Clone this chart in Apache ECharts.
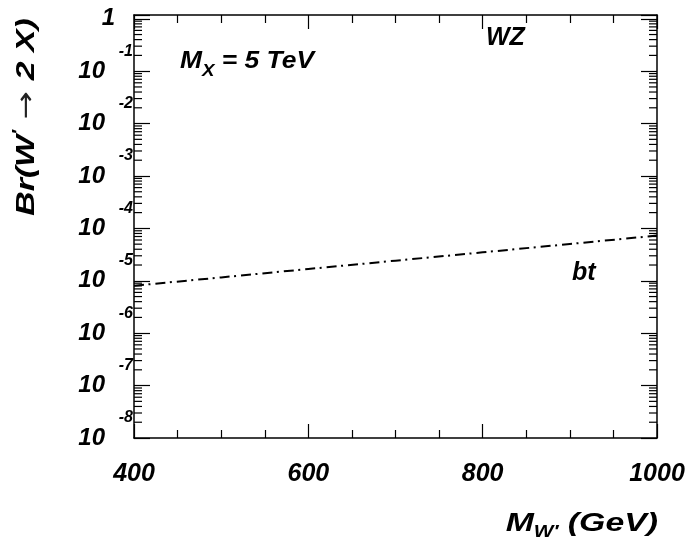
<!DOCTYPE html>
<html>
<head>
<meta charset="utf-8">
<script src="https://cdn.jsdelivr.net/npm/echarts@6/dist/echarts.min.js"></script>
<style>
  html, body { margin: 0; padding: 0; background: #fff; }
  #brChart { width: 691px; height: 546px; }
</style>
</head>
<body>
<div id="brChart"></div>
<script>
// W' mass (GeV) and branching ratio to bt
const massPoints = [400, 500, 600, 700, 800, 900, 1000];
const brBt = [8.05e-6, 1.16e-5, 1.68e-5, 2.42e-5, 3.49e-5, 5.04e-5, 7.28e-5];

const xMin = 400, xMax = 1000;
const yMin = 1e-8, yMax = 1.18;

// log minor ticks 2..9 in every decade
const minorTicks = [];
for (let n = -8; n < 0; n++) {
    for (let k = 2; k <= 9; k++) {
        minorTicks.push(k * Math.pow(10, n));
    }
}

const FONT = 'Liberation Sans';
const black = '#000';
const textBase = {fontFamily: FONT, fontWeight: 'bold', fontStyle: 'italic', color: black};

let chart = echarts.init(document.getElementById('brChart'), null, {renderer: 'canvas'});

const xAxisBase = {
    type: 'value',
    min: xMin,
    max: xMax,
    interval: 200,
    axisLine: {show: true, onZero: false, lineStyle: {color: black, width: 1.5}},
    axisTick: {show: true, inside: true, length: 14, lineStyle: {color: black, width: 1.2}},
    minorTick: {show: true, splitNumber: 4, length: 8, lineStyle: {color: black, width: 1.2}},
    splitLine: {show: false}
};

const yAxisBase = {
    type: 'log',
    logBase: 10,
    min: yMin,
    max: yMax,
    splitNumber: 8,
    axisLine: {show: true, onZero: false, lineStyle: {color: black, width: 1.5}},
    axisTick: {show: true, inside: true, length: 16, lineStyle: {color: black, width: 1.2}},
    splitLine: {show: false}
};

// bold italic rich style for graphic texts
function bi(size, extra) {
    return Object.assign({fontFamily: FONT, fontWeight: 'bold', fontStyle: 'italic', fontSize: size, fill: black}, extra || {});
}

let option = {
    backgroundColor: '#fff',
    animation: false,
    grid: {left: 134, right: 34, top: 15, bottom: 108, outerBoundsMode: 'none'},
    xAxis: [
        Object.assign({}, xAxisBase, {
            position: 'bottom',
            axisLabel: Object.assign({}, textBase, {
                fontSize: 25,
                margin: 24,
                formatter: function (v) { return String(v); }
            })
        }),
        Object.assign({}, xAxisBase, {
            position: 'top',
            axisLabel: {show: false}
        })
    ],
    yAxis: [
        Object.assign({}, yAxisBase, {
            position: 'left',
            axisLabel: Object.assign({}, textBase, {
                margin: 1,
                hideOverlap: false,
                showMinLabel: true,
                showMaxLabel: true,
                formatter: function (v) {
                    const e = Math.log10(v);
                    if (Math.abs(e - Math.round(e)) > 1e-6) return '';
                    const n = Math.round(e);
                    if (n === 0) return '{o|1}';
                    return '{e|' + n + '}\n{b|10}\n{s| }';
                },
                rich: {
                    e: Object.assign({}, textBase, {fontSize: 16, lineHeight: 11}),
                    b: Object.assign({}, textBase, {fontSize: 24, lineHeight: 29, padding: [0, 28, 0, 0]}),
                    s: Object.assign({}, textBase, {fontSize: 8, lineHeight: 11}),
                    o: Object.assign({}, textBase, {fontSize: 24, lineHeight: 26, padding: [0, 18, 0, 0]})
                }
            })
        }),
        Object.assign({}, yAxisBase, {
            position: 'right',
            axisLabel: {show: false}
        })
    ],
    graphic: [
        {
            type: 'text',
            x: 27,
            y: 117,
            rotation: Math.PI / 2,
            scaleX: 1.3,
            style: {
                text: '{t|Br(W}{p|′}{a| → }{t|2 X)}',
                align: 'center',
                verticalAlign: 'middle',
                fill: black,
                rich: {
                    t: bi(26),
                    p: bi(16, {padding: [0, 0, 14, 0]}),
                    a: {fontFamily: 'DejaVu Sans', fontWeight: 'normal', fontSize: 26, fill: '#222'}
                }
            }
        },
        {
            type: 'text',
            x: 658,
            y: 524,
            scaleX: 1.3,
            style: {
                text: '{m|M}{s|W′}{m| (GeV)}',
                align: 'right',
                verticalAlign: 'middle',
                fill: black,
                rich: {
                    m: bi(26),
                    s: bi(16, {padding: [18, 0, 0, 0]})
                }
            }
        },
        {
            type: 'text',
            x: 180,
            y: 61,
            scaleX: 1.1,
            style: {
                text: '{m|M}{s|X}{m| = 5 TeV}',
                align: 'left',
                verticalAlign: 'middle',
                fill: black,
                rich: {
                    m: bi(24),
                    s: bi(17, {padding: [20, 0, 0, 0]})
                }
            }
        },
        {
            type: 'text',
            x: 486,
            y: 38,
            style: {text: 'WZ', font: 'italic bold 25px "Liberation Sans"', fill: black, verticalAlign: 'middle'}
        },
        {
            type: 'text',
            x: 572,
            y: 273,
            style: {text: 'bt', font: 'italic bold 25px "Liberation Sans"', fill: black, verticalAlign: 'middle'}
        }
    ],
    series: [
        {
            name: 'bt',
            type: 'line',
            xAxisIndex: 0,
            yAxisIndex: 0,
            data: massPoints.map((m, i) => [m, brBt[i]]),
            showSymbol: false,
            symbol: 'none',
            lineStyle: {color: black, width: 2, type: [10, 4.5, 2, 5]},
            silent: true
        },
        {
            // minor ticks of the log axis, left and right side
            type: 'custom',
            xAxisIndex: 0,
            yAxisIndex: 0,
            silent: true,
            clip: false,
            data: minorTicks.map(v => [xMin, v]),
            renderItem: function (params, api) {
                const v = api.value(1);
                const l = api.coord([xMin, v]);
                const r = api.coord([xMax, v]);
                const st = {stroke: black, lineWidth: 1.2};
                return {
                    type: 'group',
                    children: [
                        {type: 'line', shape: {x1: l[0], y1: l[1], x2: l[0] + 8, y2: l[1]}, style: st},
                        {type: 'line', shape: {x1: r[0], y1: r[1], x2: r[0] - 8, y2: r[1]}, style: st}
                    ]
                };
            }
        }
    ]
};

chart.setOption(option, true);
</script>
</body>
</html>
